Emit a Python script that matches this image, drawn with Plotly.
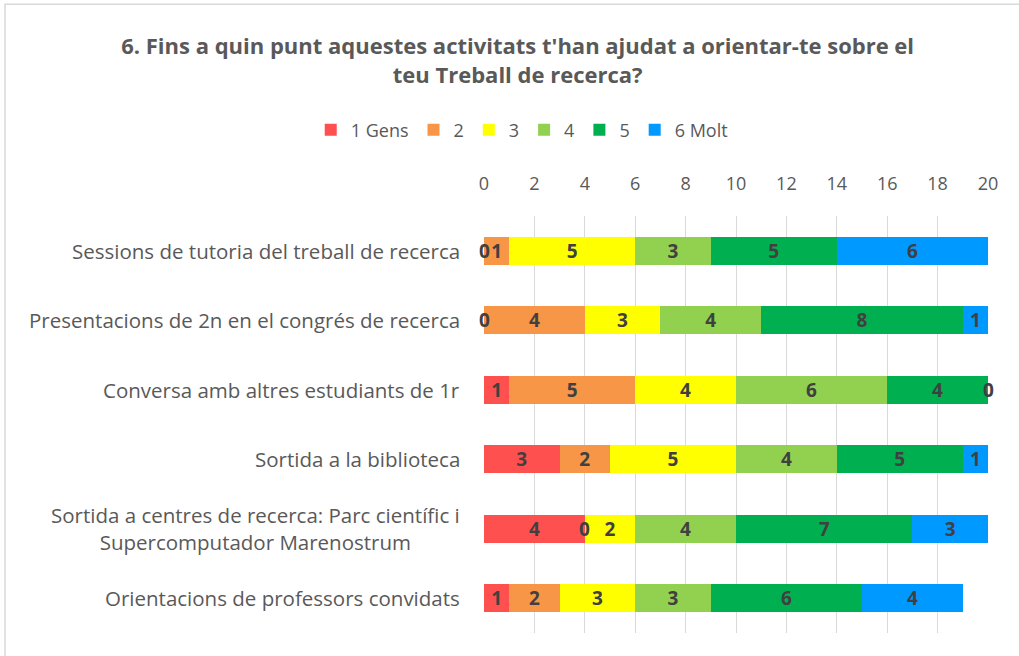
import plotly.graph_objects as go

categories = [
    "Sessions de tutoria del treball de recerca",
    "Presentacions de 2n en el congrés de recerca",
    "Conversa amb altres estudiants de 1r",
    "Sortida a la biblioteca",
    "Sortida a centres de recerca: Parc científic i<br>Supercomputador Marenostrum",
    "Orientacions de professors convidats",
]
series_names = ["1 Gens", "2", "3", "4", "5", "6 Molt"]
v1_gens = [0, 0, 1, 3, 4, 1]
v2 = [1, 4, 5, 2, 0, 2]
v3 = [5, 3, 4, 5, 2, 3]
v4 = [3, 4, 6, 4, 4, 3]
v5 = [5, 8, 4, 5, 7, 6]
v6_molt = [6, 1, 0, 1, 3, 4]
x_ticks = [0, 2, 4, 6, 8, 10, 12, 14, 16, 18, 20]

series_values = [v1_gens, v2, v3, v4, v5, v6_molt]
colors = ["#FF5050", "#F79646", "#FFFF00", "#92D050", "#00B050", "#0099FF"]

FONT = "Open Sans"
GRAY = "#595959"
LABEL = "#404040"
LABEL_FONT = dict(family=FONT, size=19, color=LABEL, weight="bold")

fig = go.Figure()
for name, vals, col in zip(series_names, series_values, colors):
    fig.add_trace(go.Bar(
        y=categories, x=vals, name=name, orientation="h",
        marker=dict(color=col, line=dict(width=0)),
        text=[str(v) if v != 0 else "" for v in vals],
        textposition="inside", insidetextanchor="middle", textangle=0,
        constraintext="none",
        textfont=LABEL_FONT,
        hoverinfo="x+name",
    ))

# labels for zero-valued segments, placed at their cumulative position
cum = [0] * len(categories)
for vals in series_values:
    for i, v in enumerate(vals):
        if v == 0:
            fig.add_annotation(
                x=cum[i], y=categories[i], xref="x", yref="y",
                text="0", showarrow=False, xanchor="center", yanchor="middle",
                font=LABEL_FONT,
            )
        cum[i] += v

for c in categories:
    fig.add_annotation(
        x=0, y=c, xref="paper", yref="y", xanchor="right", xshift=-22,
        text=c, showarrow=False, align="center",
        font=dict(family=FONT, size=20.5, color=GRAY),
    )

fig.add_shape(type="rect", xref="paper", yref="paper",
              x0=-0.9504, x1=1.2, y0=-0.3, y1=1.508,
              line=dict(color="#D9D9D9", width=1.5), fillcolor="rgba(0,0,0,0)",
              layer="below")

fig.update_layout(
    width=1019, height=656,
    barmode="stack", bargap=0.6,
    paper_bgcolor="white", plot_bgcolor="white",
    margin=dict(l=484, r=31, t=216, b=23),
    title=dict(
        text="6. Fins a quin punt aquestes activitats t'han ajudat a orientar-te sobre el<br>teu Treball de recerca?",
        x=0.508, xanchor="center", xref="container",
        y=1 - 54 / 656, yanchor="middle", yref="container",
        font=dict(family=FONT, size=22, color=GRAY, weight="bold"),
    ),
    legend=dict(
        orientation="h", x=0.512, xanchor="center", xref="container",
        y=1 - 130 / 656, yanchor="middle", yref="container",
        font=dict(family=FONT, size=18, color=GRAY),
        traceorder="normal", itemwidth=30,
    ),
    xaxis=dict(
        side="top", range=[0, 20], tickvals=x_ticks,
        showgrid=True, gridcolor="#D9D9D9", gridwidth=1,
        zeroline=False, showline=False, ticks="",
        tickfont=dict(family=FONT, size=18, color=GRAY),
        ticklabelstandoff=21, fixedrange=True,
    ),
    yaxis=dict(
        autorange="reversed", showticklabels=False, showgrid=False,
        zeroline=False, showline=False, ticks="", fixedrange=True,
    ),
    showlegend=True,
)

fig.write_html(
    "out.html",
    config={"displayModeBar": False},
    post_script="document.body.style.margin='0';document.body.style.overflow='hidden';",
)
